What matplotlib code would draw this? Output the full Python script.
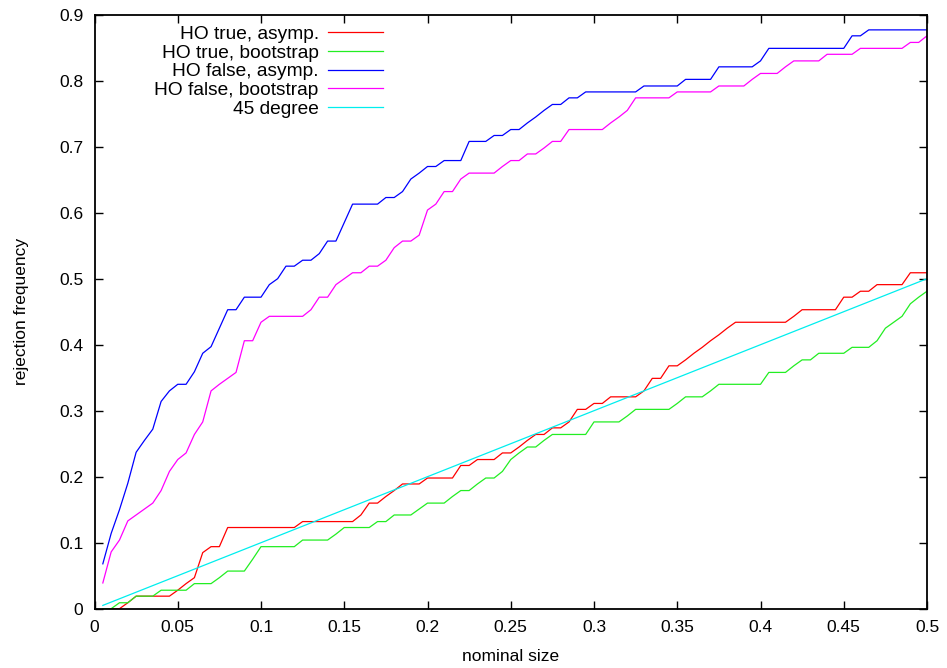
import numpy as np
import matplotlib
matplotlib.use('Agg')
import matplotlib.pyplot as plt
from matplotlib.ticker import FuncFormatter, MultipleLocator

plt.rcParams['font.family'] = ['Liberation Sans', 'DejaVu Sans']

# nominal sizes 0.005 ... 0.5
nominal_size = np.round(np.arange(1, 101) * 0.005, 3)

ho_true_asymp = [
    0, 0, 0, 0.009, 0.019, 0.019, 0.019, 0.019, 0.019, 0.028,
    0.038, 0.047, 0.085, 0.094, 0.094, 0.123, 0.123, 0.123, 0.123, 0.123,
    0.123, 0.123, 0.123, 0.123, 0.132, 0.132, 0.132, 0.132, 0.132, 0.132,
    0.132, 0.142, 0.160, 0.160, 0.170, 0.179, 0.189, 0.189, 0.189, 0.198,
    0.198, 0.198, 0.198, 0.217, 0.217, 0.226, 0.226, 0.226, 0.236, 0.236,
    0.245, 0.255, 0.264, 0.264, 0.274, 0.274, 0.283, 0.302, 0.302, 0.311,
    0.311, 0.321, 0.321, 0.321, 0.321, 0.330, 0.349, 0.349, 0.368, 0.368,
    0.377, 0.387, 0.396, 0.406, 0.415, 0.425, 0.434, 0.434, 0.434, 0.434,
    0.434, 0.434, 0.434, 0.443, 0.453, 0.453, 0.453, 0.453, 0.453, 0.472,
    0.472, 0.481, 0.481, 0.491, 0.491, 0.491, 0.491, 0.509, 0.509, 0.509]

ho_true_boot = [
    0, 0, 0.009, 0.009, 0.019, 0.019, 0.019, 0.028, 0.028, 0.028,
    0.028, 0.038, 0.038, 0.038, 0.047, 0.057, 0.057, 0.057, 0.075, 0.094,
    0.094, 0.094, 0.094, 0.094, 0.104, 0.104, 0.104, 0.104, 0.113, 0.123,
    0.123, 0.123, 0.123, 0.132, 0.132, 0.142, 0.142, 0.142, 0.151, 0.160,
    0.160, 0.160, 0.170, 0.179, 0.179, 0.189, 0.198, 0.198, 0.208, 0.226,
    0.236, 0.245, 0.245, 0.255, 0.264, 0.264, 0.264, 0.264, 0.264, 0.283,
    0.283, 0.283, 0.283, 0.292, 0.302, 0.302, 0.302, 0.302, 0.302, 0.311,
    0.321, 0.321, 0.321, 0.330, 0.340, 0.340, 0.340, 0.340, 0.340, 0.340,
    0.358, 0.358, 0.358, 0.368, 0.377, 0.377, 0.387, 0.387, 0.387, 0.387,
    0.396, 0.396, 0.396, 0.406, 0.425, 0.434, 0.443, 0.462, 0.472, 0.481]

ho_false_asymp = [
    0.068, 0.114, 0.150, 0.190, 0.237, 0.255, 0.272, 0.314, 0.330, 0.340,
    0.340, 0.359, 0.387, 0.397, 0.425, 0.453, 0.453, 0.472, 0.472, 0.472,
    0.491, 0.500, 0.519, 0.519, 0.528, 0.528, 0.538, 0.557, 0.557, 0.585,
    0.613, 0.613, 0.613, 0.613, 0.623, 0.623, 0.632, 0.651, 0.660, 0.670,
    0.670, 0.679, 0.679, 0.679, 0.708, 0.708, 0.708, 0.717, 0.717, 0.726,
    0.726, 0.736, 0.745, 0.755, 0.764, 0.764, 0.774, 0.774, 0.783, 0.783,
    0.783, 0.783, 0.783, 0.783, 0.783, 0.792, 0.792, 0.792, 0.792, 0.792,
    0.802, 0.802, 0.802, 0.802, 0.821, 0.821, 0.821, 0.821, 0.821, 0.830,
    0.849, 0.849, 0.849, 0.849, 0.849, 0.849, 0.849, 0.849, 0.849, 0.849,
    0.868, 0.868, 0.877, 0.877, 0.877, 0.877, 0.877, 0.877, 0.877, 0.877]

ho_false_boot = [
    0.039, 0.086, 0.104, 0.133, 0.142, 0.151, 0.160, 0.179, 0.208, 0.226,
    0.236, 0.264, 0.283, 0.330, 0.340, 0.349, 0.358, 0.406, 0.406, 0.434,
    0.443, 0.443, 0.443, 0.443, 0.443, 0.453, 0.472, 0.472, 0.491, 0.500,
    0.509, 0.509, 0.519, 0.519, 0.528, 0.547, 0.557, 0.557, 0.566, 0.604,
    0.613, 0.632, 0.632, 0.651, 0.660, 0.660, 0.660, 0.660, 0.670, 0.679,
    0.679, 0.689, 0.689, 0.698, 0.708, 0.708, 0.726, 0.726, 0.726, 0.726,
    0.726, 0.736, 0.745, 0.755, 0.774, 0.774, 0.774, 0.774, 0.774, 0.783,
    0.783, 0.783, 0.783, 0.783, 0.792, 0.792, 0.792, 0.792, 0.802, 0.811,
    0.811, 0.811, 0.821, 0.830, 0.830, 0.830, 0.830, 0.840, 0.840, 0.840,
    0.840, 0.849, 0.849, 0.849, 0.849, 0.849, 0.849, 0.858, 0.858, 0.868]

labels = ['HO true, asymp.', 'HO true, bootstrap', 'HO false, asymp.',
          'HO false, bootstrap', '45 degree']
colors = ['#ff0000', '#22ee22', '#0000ff', '#ff00ff', '#00eeee']

fig = plt.figure(figsize=(9.47, 6.68), dpi=100)
ax = fig.add_axes([94.5 / 947, 1 - 608.7 / 668, 832.5 / 947, 594 / 668])

series = [ho_true_asymp, ho_true_boot, ho_false_asymp, ho_false_boot, nominal_size]
for ys, lab, c in zip(series, labels, colors):
    ax.plot(nominal_size, ys, color=c, lw=0.9, label=lab)

ax.set_xlim(0, 0.5)
ax.set_ylim(0, 0.9)
ax.xaxis.set_major_locator(MultipleLocator(0.05))
ax.yaxis.set_major_locator(MultipleLocator(0.1))
fmt = FuncFormatter(lambda v, p: ('%.2f' % v).rstrip('0').rstrip('.') if abs(v) > 1e-9 else '0')
ax.xaxis.set_major_formatter(fmt)
ax.yaxis.set_major_formatter(fmt)
ax.tick_params(direction='in', length=6, width=1, top=True, right=True,
               labelsize=12.5, pad=8, colors='black')
for s in ax.spines.values():
    s.set_linewidth(1.3)

ax.set_xlabel('nominal size', fontsize=12.5, labelpad=10)
ax.set_ylabel('rejection frequency', fontsize=12.5, labelpad=22)

leg = ax.legend(loc='upper right', bbox_to_anchor=(288.5 / 832.5, 0.982),
                frameon=False, markerfirst=False, fontsize=13.8,
                handlelength=2.85, handletextpad=0.5, labelspacing=0.07,
                borderpad=0, borderaxespad=0)

fig.savefig('out.png', dpi=100)
